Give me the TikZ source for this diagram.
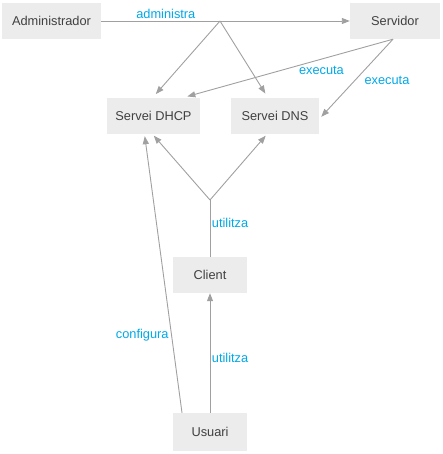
\documentclass[tikz,border=0pt]{standalone}
\usepackage{fontspec}
\setmainfont{Liberation Sans}
\usetikzlibrary{arrows.meta}
\definecolor{boxgray}{RGB}{236,236,236}
\definecolor{linegray}{RGB}{160,160,160}
\definecolor{labelblue}{RGB}{0,168,232}
\tikzset{>={Triangle[length=8pt,width=6pt]}}
\tikzset{
  entity/.style = {fill=boxgray, minimum height=36pt, inner sep=0pt, text=black!75, font=\fontsize{12.8}{15}\selectfont},
  relation/.style = {draw=linegray, line width=0.9pt},
  rolename/.style = {text=labelblue, font=\fontsize{12.8}{15}\selectfont, inner sep=1.5pt}
}

\begin{document}
\begin{tikzpicture}[x=1pt,y=-1pt]
  \useasboundingbox (0,0) rectangle (442,454);
  % entitats
  \node[entity, minimum width=99pt] (admin) at (51.5,21) {Administrador};
  \node[entity, minimum width=90pt] (server) at (395,21) {Servidor};
  \node[entity, minimum width=93pt] (dhcp) at (153.5,116) {Servei DHCP};
  \node[entity, minimum width=88pt] (dns) at (275,116) {Servei DNS};
  \node[entity, minimum width=74pt] (client) at (210,275) {Client};
  \node[entity, minimum width=74pt, minimum height=38pt] (user) at (210,432) {Usuari};
  \coordinate (adminjoin) at (220,21);
  \coordinate (clientjoin) at (210,200);
  % administra
  \draw[relation,->] (admin) -- (server) node[rolename, pos=0.26, above] {administra};
  \draw[relation,->,shorten >=5pt] (adminjoin) -- ([xshift=-1pt]dhcp.north);
  \draw[relation,->,shorten >=5pt] (adminjoin) -- ([xshift=-7pt]dns.north);
  % executa
  \draw[relation,->,shorten >=5pt] ([xshift=-2pt]server.south) -- ([xshift=29pt]dhcp.north)
    node[rolename, pos=0.34, below=5pt] {executa};
  \draw[relation,->,shorten >=3pt] ([xshift=-2pt]server.south) -- ([yshift=-3pt]dns.east)
    node[rolename, pos=0.52, right=8pt] {executa};
  % utilitza
  \draw[relation] (client) -- (clientjoin) node[rolename, pos=0.6, right] {utilitza};
  \draw[relation,->,shorten >=2pt] (clientjoin) -- ([xshift=-1pt]dhcp.south);
  \draw[relation,->,shorten >=2pt] (clientjoin) -- ([xshift=-8pt]dns.south);
  \draw[relation,->] (user) -- (client) node[rolename, pos=0.46, right] {utilitza};
  % configura
  \draw[relation,->,shorten >=2pt] ([xshift=-28pt]user.north) -- ([xshift=-9pt]dhcp.south)
    node[rolename, pos=0.28, left=1pt] {configura};
\end{tikzpicture}
\end{document}
